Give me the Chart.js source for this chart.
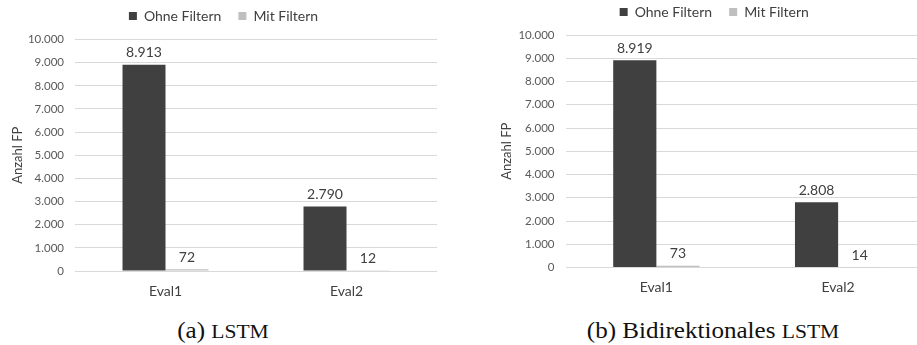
<!DOCTYPE html>
<html lang="de">
<head>
<meta charset="utf-8">
<title>Anzahl FP – LSTM und Bidirektionales LSTM</title>
<script src="https://cdn.jsdelivr.net/npm/chart.js@4.4.1/dist/chart.umd.min.js"></script>
<style>
  html, body { margin: 0; padding: 0; background: #fff; }
  body { width: 917px; height: 345px; overflow: hidden; position: relative; }
  canvas { position: absolute; top: 0; }
  #chartA { left: 0; }
  #chartB { left: 460px; }
  .caption {
    position: absolute; top: 319px; width: 300px; text-align: center;
    font-family: "Liberation Serif", "DejaVu Serif", serif; font-size: 23px;
    line-height: 23px; color: #111; white-space: nowrap;
    transform: scaleX(1.09); transform-origin: center;
  }
  .caption .sc { font-size: 0.86em; }
  #capA { left: 73px; }
  #capB { left: 563px; }
</style>
</head>
<body>
<canvas id="chartA" width="460" height="305"></canvas>
<canvas id="chartB" width="469" height="305"></canvas>
<div class="caption" id="capA">(a) <span class="sc">LSTM</span></div>
<div class="caption" id="capB">(b) Bidirektionales <span class="sc">LSTM</span></div>

<script>
// Kategorien und Reihen
const categories = ['Eval1', 'Eval2'];
const seriesNames = ['Ohne Filtern', 'Mit Filtern'];

// LSTM
const lstmOhneFiltern = [8913, 2790];
const lstmMitFiltern = [72, 12];

// Bidirektionales LSTM
const biLstmOhneFiltern = [8919, 2808];
const biLstmMitFiltern = [73, 14];

// Y-Achse
const yAxisTitle = 'Anzahl FP';
const yMax = 10000;
const yStep = 1000;

const colorDark = '#404040';
const colorLight = '#bfbfbf';
const textColor = '#404040';
const tickColor = '#595959';
const gridColor = '#d9d9d9';
const fontFamily = 'Lato, "Open Sans", sans-serif';

const fmt = v => v.toLocaleString('de-DE');

// Fixed legend height so the plot area starts where it should
const legendHeight = {
  id: 'legendHeight',
  beforeLayout(chart, args, opts) {
    const lg = chart.legend;
    if (lg && !lg._fixedFit) {
      const fit = lg.fit;
      lg.fit = function () { fit.call(this); this.height = opts.height; };
      lg._fixedFit = true;
    }
  }
};

// Value labels above every bar
const barValueLabels = {
  id: 'barValueLabels',
  afterDatasetsDraw(chart, args, opts) {
    const ctx = chart.ctx;
    ctx.save();
    ctx.font = `14px ${fontFamily}`;
    ctx.fillStyle = textColor;
    ctx.textAlign = 'center';
    ctx.textBaseline = 'middle';
    chart.data.datasets.forEach((ds, i) => {
      chart.getDatasetMeta(i).data.forEach((bar, j) => {
        ctx.fillText(fmt(ds.data[j]), bar.x, bar.y - opts.offset);
      });
    });
    ctx.restore();
  }
};

function buildChart(canvasId, ohne, mit, box) {
  return new Chart(document.getElementById(canvasId), {
    type: 'bar',
    data: {
      labels: categories,
      datasets: [
        { label: seriesNames[0], data: ohne, backgroundColor: colorDark, borderWidth: 0 },
        { label: seriesNames[1], data: mit, backgroundColor: colorLight, borderWidth: 0 }
      ]
    },
    options: {
      responsive: false,
      devicePixelRatio: 1,
      animation: false,
      categoryPercentage: 0.475,
      barPercentage: 1,
      layout: { padding: box.padding },
      plugins: {
        tooltip: { enabled: false },
        legend: {
          position: 'top',
          labels: {
            boxWidth: 8, boxHeight: 8, padding: 17,
            color: textColor,
            font: { family: fontFamily, size: 14 }
          }
        },
        legendHeight: { height: box.legendHeight },
        barValueLabels: { offset: 12 }
      },
      scales: {
        x: {
          grid: { display: false, drawTicks: false },
          border: { display: false },
          ticks: { color: textColor, padding: 12, font: { family: fontFamily, size: 14 } },
          afterFit: s => { s.height = box.xHeight; }
        },
        y: {
          min: 0, max: yMax,
          grid: { color: gridColor, lineWidth: 1, drawTicks: false },
          border: { display: false },
          ticks: {
            stepSize: yStep, padding: 11, color: tickColor,
            font: { family: fontFamily, size: 11.5 },
            callback: v => fmt(v)
          },
          title: {
            display: true, text: yAxisTitle, color: textColor,
            padding: { top: 0, bottom: 0 },
            font: { family: fontFamily, size: 13 }
          },
          afterFit: s => { s.width = box.yWidth; }
        }
      }
    },
    plugins: [legendHeight, barValueLabels]
  });
}

buildChart('chartA', lstmOhneFiltern, lstmMitFiltern, {
  padding: { top: -8, left: 10, right: 23, bottom: 0 },
  legendHeight: 47.5, yWidth: 65, xHeight: 34
});

buildChart('chartB', biLstmOhneFiltern, biLstmMitFiltern, {
  padding: { top: -12, left: 39.5, right: 0, bottom: 0 },
  legendHeight: 47, yWidth: 66, xHeight: 37.5
});
</script>
</body>
</html>
